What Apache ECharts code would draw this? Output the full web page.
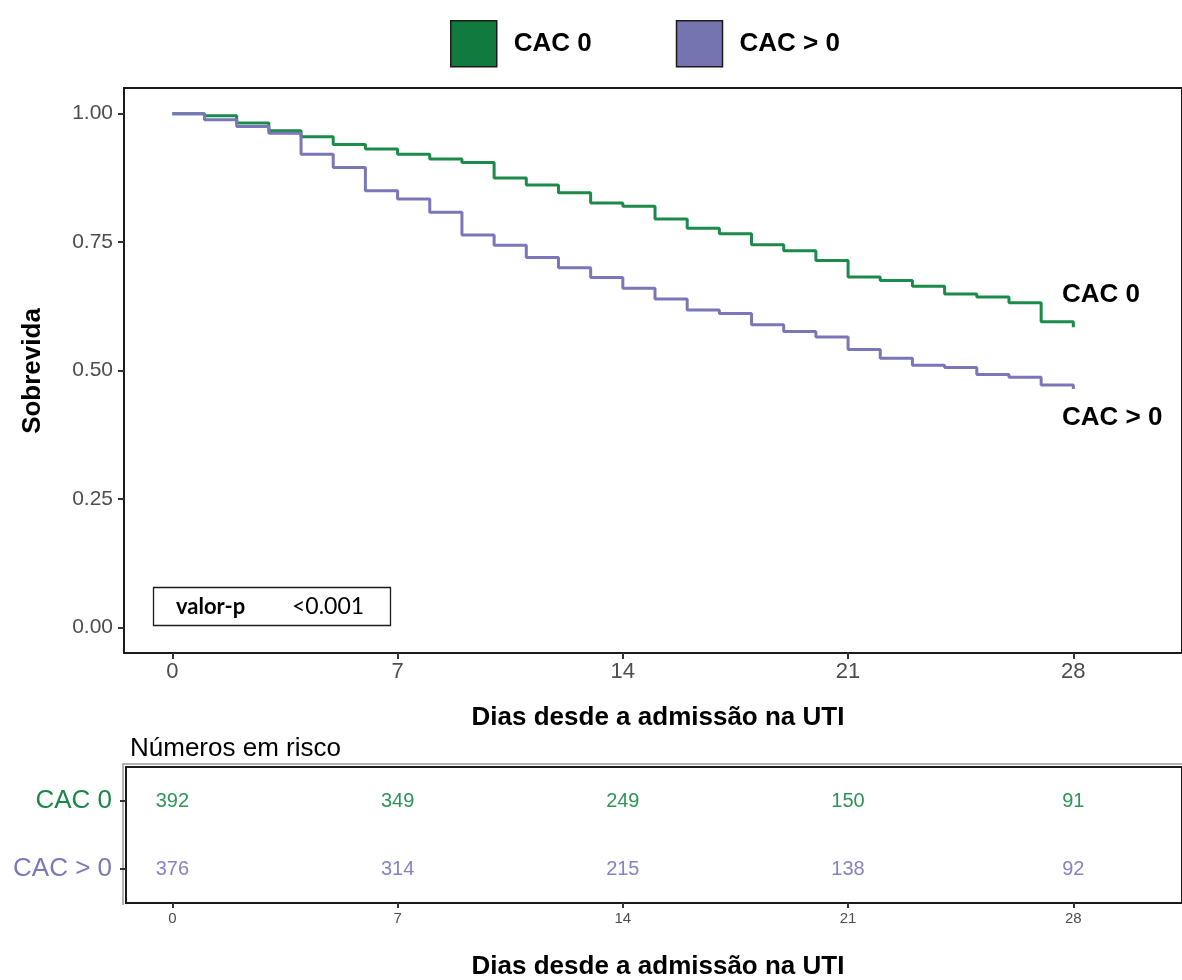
<!DOCTYPE html>
<html>
<head>
<meta charset="utf-8">
<script src="https://cdn.jsdelivr.net/npm/echarts@6/dist/echarts.min.js"></script>
<style>
html,body{margin:0;padding:0;background:#fff;}
#chart{width:1182px;height:980px;}
</style>
</head>
<body>
<div id="chart"></div>
<script>
// ---- data ----
const groups = ['CAC 0', 'CAC > 0'];
const days = [0,1,2,3,4,5,6,7,8,9,10,11,12,13,14,15,16,17,18,19,20,21,22,23,24,25,26,27,28];
const survCAC0 = [1.000,0.996,0.982,0.967,0.955,0.940,0.931,0.921,0.912,0.905,0.875,0.861,0.846,0.826,0.820,0.795,0.777,0.766,0.745,0.733,0.714,0.682,0.675,0.664,0.649,0.643,0.632,0.595,0.584];
const survCACpos = [1.000,0.988,0.975,0.962,0.921,0.895,0.850,0.834,0.808,0.764,0.744,0.720,0.700,0.681,0.660,0.639,0.618,0.611,0.589,0.576,0.565,0.541,0.524,0.510,0.506,0.492,0.487,0.472,0.464];
const xTicks = [0,7,14,21,28];
const yTicks = [0,0.25,0.5,0.75,1];
const riskDays = [0,7,14,21,28];
const riskCAC0 = [392,349,249,150,91];
const riskCACpos = [376,314,215,138,92];
const riskRows = ['CAC > 0','CAC 0'];
const pValue = '<0.001';

// ---- styles ----
const FONT = 'Liberation Sans, Arial, sans-serif';
const lineGreen = '#1b8a4b';
const linePurple = '#7a77b8';
const boxGreen = '#117a3f';
const boxPurple = '#7674b0';
const numGreen = '#2f9459';
const numPurple = '#8683c0';
const rowGreen = '#1a8649';
const rowPurple = '#7b78b8';

const chart = echarts.init(document.getElementById('chart'), null, {renderer:'canvas'});

const option = {
  animation: false,
  backgroundColor: '#fff',
  legend: {
    left: 445, top: 15,
    itemWidth: 46, itemHeight: 46, itemGap: 84,
    icon: 'rect',
    textStyle: {fontFamily: FONT, fontSize: 26, fontWeight: 'bold', color: '#000', padding: [0,0,0,12]},
    data: [
      {name: groups[0], itemStyle: {color: boxGreen, borderColor: '#1a1a1a', borderWidth: 1.5}},
      {name: groups[1], itemStyle: {color: boxPurple, borderColor: '#1a1a1a', borderWidth: 1.5}}
    ]
  },
  grid: [
    {left: 124, top: 88, width: 1062, height: 565, show: true, borderColor: '#1a1a1a', borderWidth: 2, backgroundColor: '#fff'},
    {left: 126, top: 767, width: 1060, height: 136, show: true, borderColor: '#1a1a1a', borderWidth: 2, backgroundColor: '#fff'}
  ],
  xAxis: [
    {
      type: 'value', gridIndex: 0, min: -1.5016, max: 31.377,
      splitLine: {show: false},
      axisLine: {show: true, onZero: false, lineStyle: {color: '#1a1a1a', width: 2}},
      axisTick: {show: true, length: 6, lineStyle: {color: '#333', width: 2}, customValues: xTicks},
      axisLabel: {customValues: xTicks, fontFamily: FONT, fontSize: 22, color: '#4d4d4d', margin: 8}
    },
    {
      type: 'value', gridIndex: 1, min: -1.4396, max: 31.378,
      splitLine: {show: false},
      axisLine: {show: true, onZero: false, lineStyle: {color: '#1a1a1a', width: 2}},
      axisTick: {show: true, length: 5, lineStyle: {color: '#333', width: 2}, customValues: xTicks},
      axisLabel: {customValues: xTicks, fontFamily: FONT, fontSize: 15, color: '#4d4d4d', margin: 8}
    }
  ],
  yAxis: [
    {
      type: 'value', gridIndex: 0, min: -0.05, max: 1.05,
      splitLine: {show: false},
      axisLine: {show: true, onZero: false, lineStyle: {color: '#1a1a1a', width: 2}},
      axisTick: {show: true, length: 6, lineStyle: {color: '#333', width: 2}, customValues: yTicks},
      axisLabel: {customValues: yTicks, fontFamily: FONT, fontSize: 21, color: '#4d4d4d', margin: 11,
        formatter: v => v.toFixed(2)}
    },
    {
      type: 'category', gridIndex: 1, data: riskRows,
      axisLine: {show: true, onZero: false, lineStyle: {color: '#1a1a1a', width: 2}},
      axisTick: {show: true, length: 6, alignWithLabel: true, lineStyle: {color: '#333', width: 2}},
      axisLabel: {fontFamily: FONT, fontSize: 26, margin: 14,
        color: (v) => v === groups[0] ? rowGreen : rowPurple}
    }
  ],
  series: [
    {
      name: groups[0], type: 'line', step: 'end', xAxisIndex: 0, yAxisIndex: 0,
      showSymbol: false, symbol: 'none',
      lineStyle: {color: lineGreen, width: 3},
      itemStyle: {color: lineGreen},
      data: days.map((d, i) => [d, survCAC0[i]])
    },
    {
      name: groups[1], type: 'line', step: 'end', xAxisIndex: 0, yAxisIndex: 0,
      showSymbol: false, symbol: 'none',
      lineStyle: {color: linePurple, width: 3},
      itemStyle: {color: linePurple},
      data: days.map((d, i) => [d, survCACpos[i]])
    },
    {
      type: 'scatter', xAxisIndex: 1, yAxisIndex: 1, symbolSize: 1,
      itemStyle: {color: 'rgba(0,0,0,0)', opacity: 1},
      label: {show: true, position: 'inside', formatter: p => String(p.value[2]),
        fontFamily: FONT, fontSize: 20, color: numGreen},
      data: riskDays.map((d, i) => [d, groups[0], riskCAC0[i]])
    },
    {
      type: 'scatter', xAxisIndex: 1, yAxisIndex: 1, symbolSize: 1,
      itemStyle: {color: 'rgba(0,0,0,0)', opacity: 1},
      label: {show: true, position: 'inside', formatter: p => String(p.value[2]),
        fontFamily: FONT, fontSize: 20, color: numPurple},
      data: riskDays.map((d, i) => [d, groups[1], riskCACpos[i]])
    }
  ],
  graphic: [
    // end-of-curve labels
    {type: 'text', x: 1062, y: 295, style: {text: groups[0], fontFamily: FONT, fontSize: 26, fontWeight: 'bold', fill: '#000', textVerticalAlign: 'middle'}},
    {type: 'text', x: 1062, y: 418, style: {text: groups[1], fontFamily: FONT, fontSize: 26, fontWeight: 'bold', fill: '#000', textVerticalAlign: 'middle'}},
    // p-value box
    {type: 'rect', shape: {x: 153.5, y: 587.5, width: 237, height: 38}, style: {fill: '#fff', stroke: '#1a1a1a', lineWidth: 1.3}},
    {type: 'text', x: 176, y: 607, style: {text: 'valor-p', fontFamily: 'Lato, Open Sans, sans-serif', fontSize: 22, fontWeight: 'bold', fill: '#000', textVerticalAlign: 'middle'}},
    {type: 'text', x: 292, y: 607, style: {text: pValue, fontFamily: 'Lato, Open Sans, sans-serif', fontSize: 23, fill: '#000', textVerticalAlign: 'middle'}},
    // axis titles
    {type: 'text', x: 33, y: 371, rotation: Math.PI/2, style: {text: 'Sobrevida', fontFamily: FONT, fontSize: 26, fontWeight: 'bold', fill: '#000', textAlign: 'center', textVerticalAlign: 'middle'}},
    {type: 'text', x: 658, y: 718, style: {text: 'Dias desde a admissão na UTI', fontFamily: FONT, fontSize: 26, fontWeight: 'bold', fill: '#000', textAlign: 'center', textVerticalAlign: 'middle'}},
    {type: 'text', x: 130, y: 749, style: {text: 'Números em risco', fontFamily: FONT, fontSize: 26, fill: '#000', textVerticalAlign: 'middle'}},
    {type: 'text', x: 658, y: 967, style: {text: 'Dias desde a admissão na UTI', fontFamily: FONT, fontSize: 26, fontWeight: 'bold', fill: '#000', textAlign: 'center', textVerticalAlign: 'middle'}},
    // outer gray edge of risk table panel
    {type: 'polyline', shape: {points: [[123, 905], [123, 764], [1190, 764]]}, style: {stroke: '#9a9a9a', lineWidth: 1.5, fill: null}}
  ]
};
chart.setOption(option);
</script>
</body>
</html>
